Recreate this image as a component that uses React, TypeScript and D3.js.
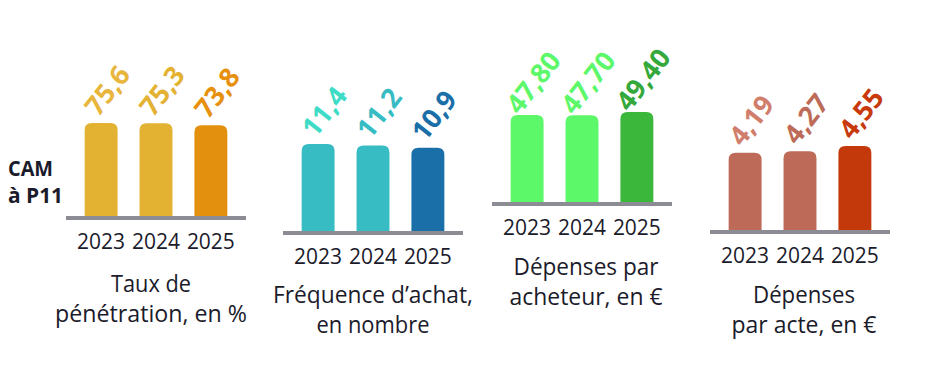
import React from "react";
import * as d3 from "d3";

const years = ["2023", "2024", "2025"];
const penetration = [75.6, 75.3, 73.8];
const frequency = [11.4, 11.2, 10.9];
const spendPerBuyer = [47.8, 47.7, 49.4];
const spendPerAct = [4.19, 4.27, 4.55];

const titlePenetration = ["Taux de", "pénétration, en %"];
const titleFrequency = ["Fréquence d’achat,", "en nombre"];
const titleBuyer = ["Dépenses par", "acheteur, en €"];
const titleAct = ["Dépenses", "par acte, en €"];
const sideLabel = ["CAM", "à P11"];

type Panel = {
  values: number[];
  decimals: number;
  title: string[];
  titleW: number[];
  x0: number;
  base: number;
  maxH: number;
  titleCx: number;
  titleY: number;
  barColors: string[];
  labelColors: string[];
};

const panels: Panel[] = [
  {
    values: penetration, decimals: 1, title: titlePenetration, titleW: [80, 192],
    x0: 66, base: 218, maxH: 94, titleCx: 151, titleY: 292,
    barColors: ["#e3b232", "#e3b232", "#e3900e"],
    labelColors: ["#e8b63c", "#e3b232", "#e6900e"],
  },
  {
    values: frequency, decimals: 1, title: titleFrequency, titleW: [200, 113],
    x0: 283, base: 233, maxH: 88, titleCx: 373, titleY: 303,
    barColors: ["#38bcc4", "#38bcc4", "#1a6fa8"],
    labelColors: ["#3edcc6", "#38bcc4", "#1a6fa8"],
  },
  {
    values: spendPerBuyer, decimals: 2, title: titleBuyer, titleW: [145, 153],
    x0: 492, base: 204, maxH: 91, titleCx: 586, titleY: 275,
    barColors: ["#5cf86a", "#5cf86a", "#3bb83c"],
    labelColors: ["#5cf86a", "#5cf86a", "#34a83a"],
  },
  {
    values: spendPerAct, decimals: 2, title: titleAct, titleW: [102, 145],
    x0: 710, base: 232, maxH: 85, titleCx: 804, titleY: 303,
    barColors: ["#bd6b58", "#bd6b58", "#c4390b"],
    labelColors: ["#d17d6c", "#bd6b58", "#c8390c"],
  },
];

const DARK = "#1b1b2b";
const FONT = "'Open Sans', 'Noto Sans', sans-serif";

function roundTop(x: number, y: number, w: number, h: number, r: number) {
  const p = d3.path();
  p.moveTo(x, y + h);
  p.lineTo(x, y + r);
  p.quadraticCurveTo(x, y, x + r, y);
  p.lineTo(x + w - r, y);
  p.quadraticCurveTo(x + w, y, x + w, y + r);
  p.lineTo(x + w, y + h);
  p.closePath();
  return p.toString();
}

function PanelView({ p }: { p: Panel }) {
  const lineW = 180;
  const xs = d3.scaleBand<string>().domain(years).range([p.x0, p.x0 + lineW]).paddingInner(0.4).paddingOuter(0.34);
  const max = d3.max(p.values) as number;
  const ys = d3.scaleLinear().domain([0, max]).range([p.base - 1, p.base - 1 - p.maxH]);
  const fmt = d3.format(`.${p.decimals}f`);
  return (
    <g>
      {p.values.map((v, i) => {
        const x = xs(years[i]) as number;
        const w = xs.bandwidth();
        const y = ys(v);
        const cx = x + w / 2;
        const label = fmt(v).replace(".", ",");
        return (
          <g key={i}>
            <path d={roundTop(x, y, w, p.base - y, 7)} fill={p.barColors[i]} />
            <g transform={`translate(${cx + 8},${y - 31}) rotate(-52)`}>
              <text
                x={0}
                y={0}
                textAnchor="middle"
                dominantBaseline="middle"
                fontFamily={FONT}
                fontWeight={700}
                fontSize={27}
                fill={p.labelColors[i]}
              >
                {label}
              </text>
            </g>
            <text
              x={cx}
              y={p.base + 31}
              textAnchor="middle"
              fontFamily={FONT}
              fontSize={21}
              fill={DARK}
              textLength={48}
              lengthAdjust="spacingAndGlyphs"
            >
              {years[i]}
            </text>
          </g>
        );
      })}
      <line x1={p.x0} x2={p.x0 + lineW} y1={p.base} y2={p.base} stroke="#8c8c94" strokeWidth={4} />
      {p.title.map((t, j) => (
        <text
          key={j}
          x={p.titleCx}
          y={p.titleY + j * 29.5}
          textAnchor="middle"
          fontFamily={FONT}
          fontSize={24}
          fill={DARK}
          textLength={p.titleW[j]}
          lengthAdjust="spacingAndGlyphs"
        >
          {t}
        </text>
      ))}
    </g>
  );
}

export default function App() {
  return (
    <svg
      width={930}
      height={381}
      style={{ position: "absolute", left: 0, top: 0, background: "#ffffff" }}
    >
      <rect width={930} height={381} fill="#ffffff" />
      {sideLabel.map((t, j) => (
        <text
          key={j}
          x={8}
          y={176 + j * 27}
          fontFamily={FONT}
          fontWeight={700}
          fontSize={21}
          fill={DARK}
          textLength={j === 0 ? 45 : 55}
          lengthAdjust="spacingAndGlyphs"
        >
          {t}
        </text>
      ))}
      {panels.map((p, i) => (
        <PanelView key={i} p={p} />
      ))}
    </svg>
  );
}
